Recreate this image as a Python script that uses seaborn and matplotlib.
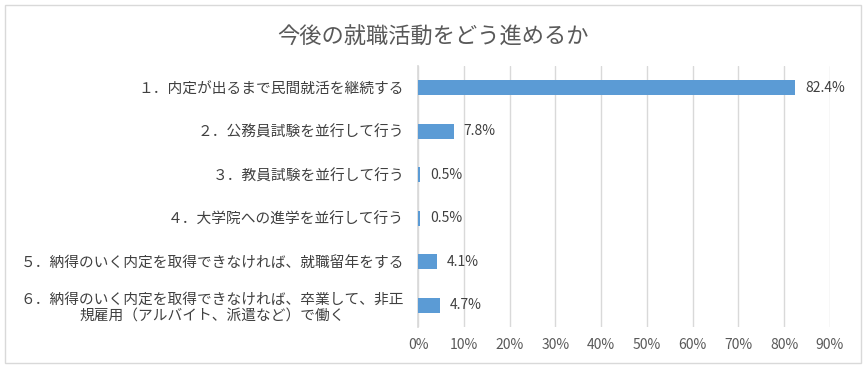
import matplotlib
matplotlib.use("Agg")
import matplotlib.pyplot as plt
import seaborn as sns
import pandas as pd
from matplotlib.patches import Rectangle
from matplotlib.ticker import PercentFormatter

# ----------- Data -----------

categories = [
    "１．内定が出るまで民間就活を継続する",
    "２．公務員試験を並行して行う",
    "３．教員試験を並行して行う",
    "４．大学院への進学を並行して行う",
    "５．納得のいく内定を取得できなければ、就職留年をする",
    "６．納得のいく内定を取得できなければ、卒業して、非正\n規雇用（アルバイト、派遣など）で働く",
]
shares = [0.824, 0.078, 0.005, 0.005, 0.041, 0.047]
x_ticks = [0.0, 0.1, 0.2, 0.3, 0.4, 0.5, 0.6, 0.7, 0.8, 0.9]

title = "今後の就職活動をどう進めるか"

# ----------- Style -----------

sns.set_theme(style="white")
plt.rcParams["font.family"] = ["Noto Sans CJK JP", "DejaVu Sans"]
text_color = "#595959"
bar_color = "#5B9BD5"
grid_color = "#D9D9D9"

df = pd.DataFrame({"item": categories, "share": shares})

fig = plt.figure(figsize=(8.66, 3.69), dpi=100)
fig.patches.append(Rectangle((0.006, 0.016), 0.988, 0.97, transform=fig.transFigure,
                             fill=False, edgecolor="#D9D9D9", linewidth=1))

ax = fig.add_axes([0.4827, 0.114, 0.4757, 0.707])
sns.barplot(data=df, x="share", y="item", color=bar_color, width=0.35,
            saturation=1, linewidth=0, ax=ax, zorder=3)

ax.set_xlim(0, 0.9)
ax.set_xticks(x_ticks)
ax.xaxis.set_major_formatter(PercentFormatter(1.0, decimals=0))
ax.grid(axis="x", color=grid_color, linewidth=1, zorder=0)
ax.set_xlabel("")
ax.set_ylabel("")
for side in ["top", "right", "bottom"]:
    ax.spines[side].set_visible(False)
ax.spines["left"].set_color(grid_color)
ax.spines["left"].set_zorder(1)
ax.tick_params(axis="y", length=0, colors="#404040", labelsize=10.6, pad=10)
ax.tick_params(axis="x", length=0, colors=text_color, labelsize=10, pad=8)
for lbl in ax.get_yticklabels():
    lbl.set_multialignment("center")
    lbl.set_linespacing(1.25)

for i, v in enumerate(shares):
    ax.annotate(f"{v * 100:.1f}%", (v, i), xytext=(7, 0), textcoords="offset points",
                va="center", ha="left", fontsize=10, color="#404040")

fig.text(0.5, 0.9, title, ha="center", va="center", fontsize=16, color=text_color)

fig.savefig("out.png", dpi=100)
plt.close(fig)
